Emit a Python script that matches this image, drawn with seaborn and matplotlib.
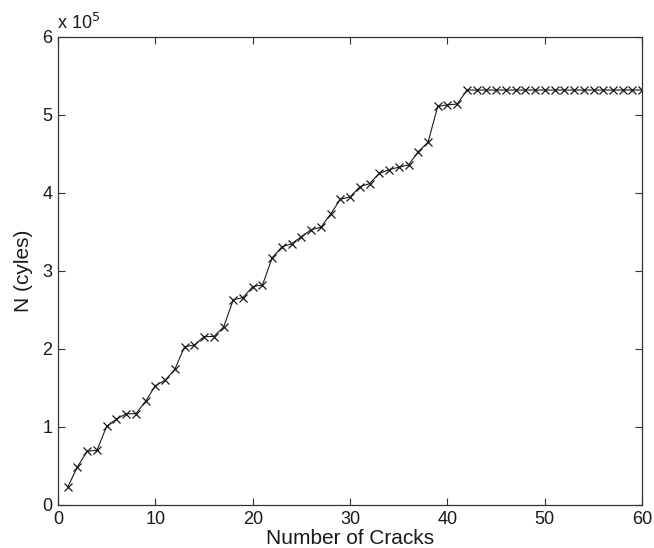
import matplotlib
matplotlib.use("Agg")
import matplotlib.pyplot as plt
import numpy as np
import pandas as pd
import seaborn as sns
from matplotlib.ticker import FuncFormatter, MultipleLocator

# Cumulative load cycles N at which each successive crack is observed
crack_number = list(range(1, 61))
cycles_e5 = [0.23, 0.49, 0.69, 0.70, 1.01, 1.10, 1.17, 1.17, 1.33, 1.53,
             1.60, 1.74, 2.03, 2.05, 2.16, 2.16, 2.28, 2.63, 2.66, 2.80,
             2.82, 3.17, 3.31, 3.35, 3.44, 3.53, 3.56, 3.73, 3.92, 3.95,
             4.08, 4.12, 4.25, 4.30, 4.33, 4.36, 4.53, 4.65, 5.11, 5.13,
             5.14] + [5.32] * 19
cycles = [v * 1e5 for v in cycles_e5]

df = pd.DataFrame({"cracks": crack_number, "cycles": cycles})

sns.set_theme(style="ticks")
plt.rcParams["font.family"] = ["Liberation Sans", "DejaVu Sans"]

fig = plt.figure(figsize=(6.54, 5.48), dpi=100)
ax = fig.add_axes([0.0887, 0.0785, 0.8933, 0.854])

sns.lineplot(data=df, x="cracks", y="cycles", ax=ax, color="#1a1a1a",
             linewidth=0.8, marker="x", markersize=6, markeredgewidth=0.9,
             markeredgecolor="#1a1a1a")

ax.set_xlim(0, 60)
ax.set_ylim(0, 6e5)
ax.xaxis.set_major_locator(MultipleLocator(10))
ax.yaxis.set_major_locator(MultipleLocator(1e5))
ax.yaxis.set_major_formatter(FuncFormatter(lambda v, p: f"{v / 1e5:g}"))

ax.tick_params(direction="in", top=True, right=True, length=5, width=0.8,
               labelsize=13, colors="#333333", labelcolor="#1a1a1a", pad=4)
for s in ax.spines.values():
    s.set_linewidth(0.9)
    s.set_color("#333333")

ax.set_xlabel("Number of Cracks", fontsize=15, labelpad=1, color="#1a1a1a")
ax.set_ylabel("N (cyles)", fontsize=15, labelpad=7, color="#1a1a1a")
ax.text(-0.002, 1.008, r"x 10$^5$", transform=ax.transAxes, fontsize=13,
        ha="left", va="bottom", color="#1a1a1a")

fig.savefig("out.png", dpi=100)
